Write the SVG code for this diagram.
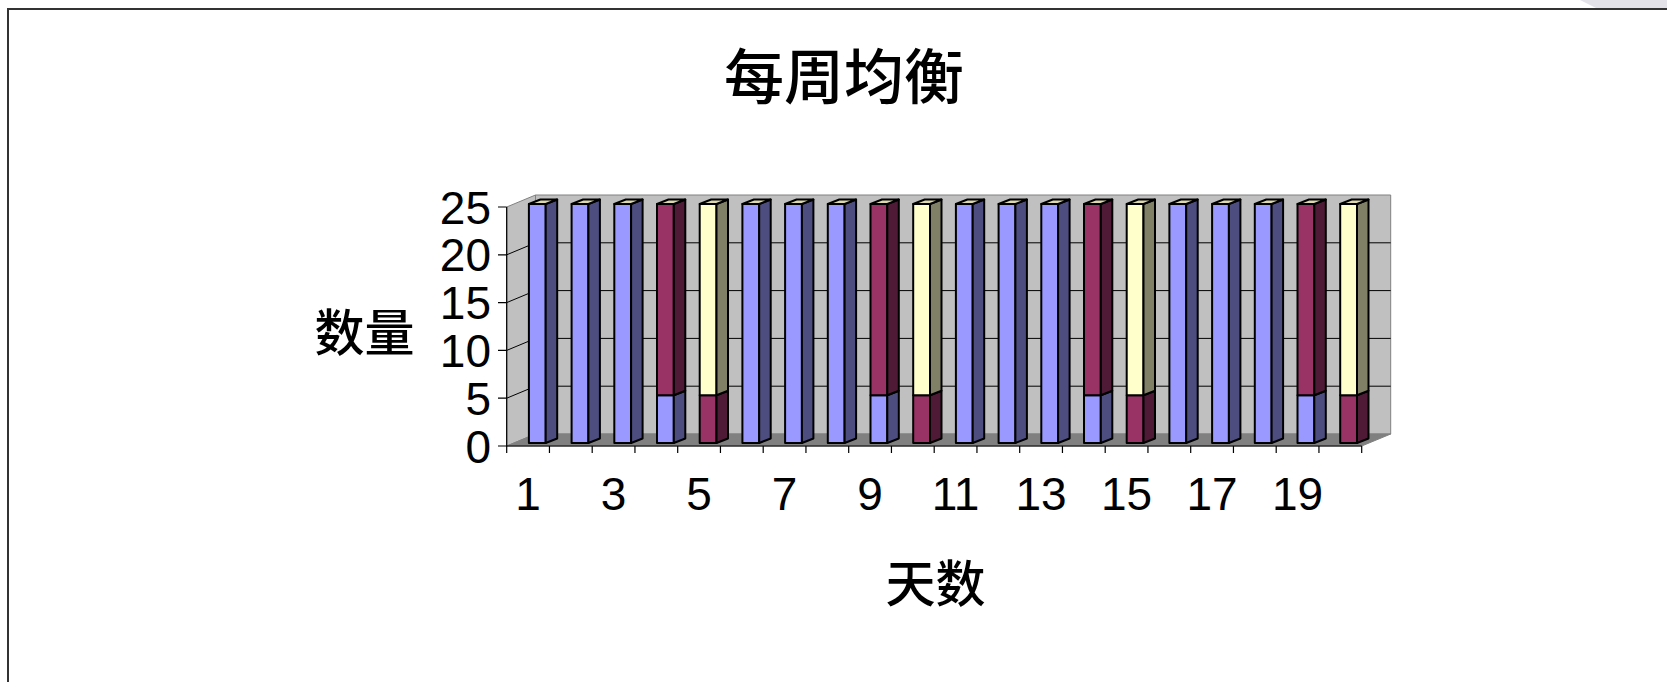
<svg xmlns="http://www.w3.org/2000/svg" width="1667" height="682" viewBox="0 0 1667 682">
<style>
.num{font-family:"Liberation Sans",Arial,sans-serif;font-size:46px;fill:#000}
.cjk{font-family:"Noto Sans CJK SC",sans-serif;fill:#000}
.ed{stroke:#000;stroke-width:2;stroke-linejoin:round}
.bf{fill:#9999FF}.bs{fill:#4D4D80}
.mf{fill:#993366}.ms{fill:#4F1A36}
.yf{fill:#FFFFCC}.ys{fill:#808066}
.tp{fill:#DCD9AE}
.grid{stroke:#000;stroke-width:1;fill:none}
.ax{stroke:#000;stroke-width:1.2;fill:none}
</style>
<defs>
<g id="barA">
<rect class="bf ed" x="0" y="204" width="16.8" height="239"/>
<polygon class="bs ed" points="16.8,443 28.3,438.5 28.3,199.5 16.8,204"/>
<polygon class="tp ed" points="0,204 16.8,204 28.3,199.5 11.5,199.5"/>
</g>
<g id="barB">
<rect class="bf ed" x="0" y="395.2" width="16.8" height="47.8"/>
<polygon class="bs ed" points="16.8,443 28.3,438.5 28.3,390.7 16.8,395.2"/>
<rect class="mf ed" x="0" y="204" width="16.8" height="191.2"/>
<polygon class="ms ed" points="16.8,395.2 28.3,390.7 28.3,199.5 16.8,204"/>
<polygon class="tp ed" points="0,204 16.8,204 28.3,199.5 11.5,199.5"/>
</g>
<g id="barC">
<rect class="mf ed" x="0" y="395.2" width="16.8" height="47.8"/>
<polygon class="ms ed" points="16.8,443 28.3,438.5 28.3,390.7 16.8,395.2"/>
<rect class="yf ed" x="0" y="204" width="16.8" height="191.2"/>
<polygon class="ys ed" points="16.8,395.2 28.3,390.7 28.3,199.5 16.8,204"/>
<polygon class="tp ed" points="0,204 16.8,204 28.3,199.5 11.5,199.5"/>
</g>
</defs>
<rect x="0" y="0" width="1667" height="682" fill="#fff"/>
<polygon points="1580,0 1667,0 1667,8 1596,8" fill="#e3e2e8"/>
<path d="M8,682 L8,9 L1667,9" fill="none" stroke="#333" stroke-width="2"/>

<g id="title"><text class="cjk" x="844" y="99" font-size="60" font-weight="500" text-anchor="middle">每周均衡</text></g>

<g id="plot-area">
<polygon points="535.5,195 1390.7,195 1390.7,434 535.5,434" fill="#C0C0C0" stroke="#808080" stroke-width="1"/>
<polygon points="506.7,207 535.5,195 535.5,434 506.7,446" fill="#C0C0C0" stroke="#808080" stroke-width="1"/>
<polygon points="506.7,446 535.5,434 1390.7,434 1361.7,446" fill="#808080" stroke="#808080" stroke-width="1"/>
<path class="grid" d="M506.7,398.2 L535.5,386.2 L1390.7,386.2 M506.7,350.4 L535.5,338.4 L1390.7,338.4 M506.7,302.6 L535.5,290.6 L1390.7,290.6 M506.7,254.8 L535.5,242.8 L1390.7,242.8"/>
</g>

<g id="connectors">
<path class="ax" d="M506.7,207 L506.7,446 L1361.7,446"/>
<path class="ax" d="M498,207 H506.7 M498,254.8 H506.7 M498,302.6 H506.7 M498,350.4 H506.7 M498,398.2 H506.7 M498,446 H506.7"/>
<path class="ax" d="M506.7,446 v7 M549.45,446 v7 M592.2,446 v7 M634.95,446 v7 M677.7,446 v7 M720.45,446 v7 M763.2,446 v7 M805.95,446 v7 M848.7,446 v7 M891.45,446 v7 M934.2,446 v7 M976.95,446 v7 M1019.7,446 v7 M1062.45,446 v7 M1105.2,446 v7 M1147.95,446 v7 M1190.7,446 v7 M1233.45,446 v7 M1276.2,446 v7 M1318.95,446 v7 M1361.7,446 v7"/>
</g>

<g id="bar1" transform="translate(528.9,0)"><use href="#barA"/></g>
<g id="bar2" transform="translate(571.6,0)"><use href="#barA"/></g>
<g id="bar3" transform="translate(614.3,0)"><use href="#barA"/></g>
<g id="bar4" transform="translate(657.0,0)"><use href="#barB"/></g>
<g id="bar5" transform="translate(699.7,0)"><use href="#barC"/></g>
<g id="bar6" transform="translate(742.4,0)"><use href="#barA"/></g>
<g id="bar7" transform="translate(785.1,0)"><use href="#barA"/></g>
<g id="bar8" transform="translate(827.8,0)"><use href="#barA"/></g>
<g id="bar9" transform="translate(870.5,0)"><use href="#barB"/></g>
<g id="bar10" transform="translate(913.2,0)"><use href="#barC"/></g>
<g id="bar11" transform="translate(955.9,0)"><use href="#barA"/></g>
<g id="bar12" transform="translate(998.6,0)"><use href="#barA"/></g>
<g id="bar13" transform="translate(1041.3,0)"><use href="#barA"/></g>
<g id="bar14" transform="translate(1084.0,0)"><use href="#barB"/></g>
<g id="bar15" transform="translate(1126.7,0)"><use href="#barC"/></g>
<g id="bar16" transform="translate(1169.4,0)"><use href="#barA"/></g>
<g id="bar17" transform="translate(1212.1,0)"><use href="#barA"/></g>
<g id="bar18" transform="translate(1254.8,0)"><use href="#barA"/></g>
<g id="bar19" transform="translate(1297.5,0)"><use href="#barB"/></g>
<g id="bar20" transform="translate(1340.2,0)"><use href="#barC"/></g>

<g id="y-labels" text-anchor="end">
<text class="num" x="491" y="223.5">25</text>
<text class="num" x="491" y="271.3">20</text>
<text class="num" x="491" y="319.1">15</text>
<text class="num" x="491" y="366.9">10</text>
<text class="num" x="491" y="414.7">5</text>
<text class="num" x="491" y="462.5">0</text>
</g>
<g id="x-labels" text-anchor="middle">
<text class="num" x="528.1" y="510">1</text>
<text class="num" x="613.6" y="510">3</text>
<text class="num" x="699.1" y="510">5</text>
<text class="num" x="784.6" y="510">7</text>
<text class="num" x="870.1" y="510">9</text>
<text class="num" x="955.6" y="510">11</text>
<text class="num" x="1041.1" y="510">13</text>
<text class="num" x="1126.6" y="510">15</text>
<text class="num" x="1212.1" y="510">17</text>
<text class="num" x="1297.6" y="510">19</text>
</g>
<g id="y-title"><text class="cjk" x="364.5" y="351" font-size="50" font-weight="500" text-anchor="middle">数量</text></g>
<g id="x-title"><text class="cjk" x="935.5" y="602" font-size="50" font-weight="500" text-anchor="middle">天数</text></g>
</svg>
